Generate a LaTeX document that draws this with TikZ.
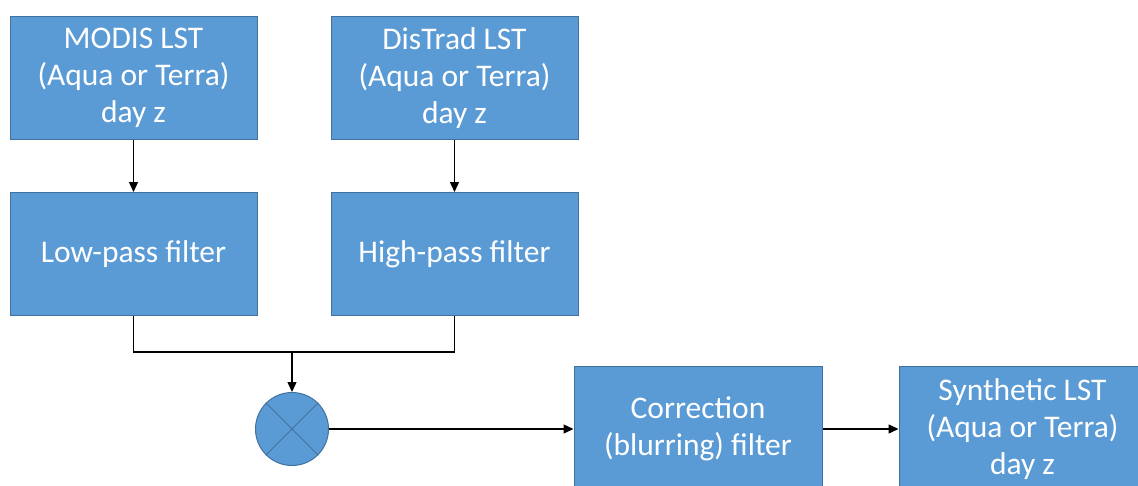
\documentclass[tikz,border=0pt]{standalone}
\usepackage{fontspec}
\setmainfont{Carlito}
\usepackage{xcolor}
\definecolor{boxBody}{RGB}{91,155,213}
\definecolor{boxBorder}{RGB}{65,113,156}
\usepackage{tikz}
\usetikzlibrary{shapes}
\usetikzlibrary{arrows.meta}
\usetikzlibrary{positioning}
\tikzstyle{BOX} = [fill=boxBody, draw=boxBorder, line width=1pt]
\tikzstyle{block} = [BOX, rectangle, minimum width=247pt, minimum height=123pt,
        inner sep=0pt, align=center, text=white, font={\fontsize{31.5}{37}\selectfont}]
\tikzstyle{mixer} = [BOX, circle, minimum size=73pt, inner sep=0pt]
\tikzstyle{flow} = [draw, line width=1.3pt, -{Triangle[length=10pt,width=9pt]}]

\begin{document}
\begin{tikzpicture}
            \useasboundingbox (0,0) rectangle (1138pt,-485pt);
            \node[block] (modis) at (133.5pt,-78pt) {MODIS LST\\(Aqua or Terra)\\day z};
            \node[block, right=73pt of modis] (distrad) {DisTrad LST\\(Aqua or Terra)\\day z};
            \node[block, below=52pt of modis] (lowpass) {Low-pass filter};
            \node[block, below=52pt of distrad] (highpass) {High-pass filter};
            \node[mixer] (mult) at (292pt,-429pt) {};
            \draw[boxBorder, line width=1pt] (mult.north west) -- (mult.south east)
                (mult.north east) -- (mult.south west);
            \node[block, minimum width=248pt, minimum height=126pt] (correction) at (698pt,-429pt)
                {Correction\\(blurring) filter};
            \node[block, minimum height=126pt, right=76pt of correction] (synth)
                {Synthetic LST\\(Aqua or Terra)\\day z};
            \coordinate (join) at (292pt,-352pt);
            % arrows
            \draw[flow] (modis) -- (lowpass);
            \draw[flow] (distrad) -- (highpass);
            \draw[line width=1.3pt] (lowpass.south) |- (join) -| (highpass.south);
            \draw[flow] (join) -- (mult);
            \draw[flow] (mult) -- (correction);
            \draw[flow] (correction) -- (synth);
        \end{tikzpicture}
\end{document}
